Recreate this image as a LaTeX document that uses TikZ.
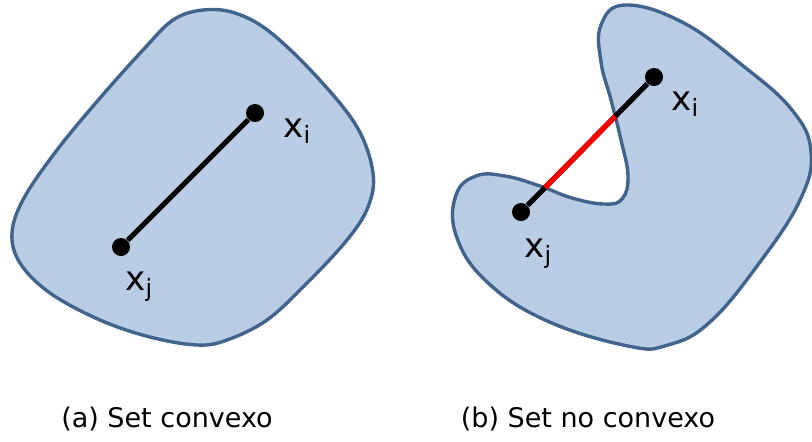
\documentclass[tikz,border=0pt]{standalone}
\usepackage{fontspec}
\setmainfont{DejaVu Sans}
\usetikzlibrary{calc, intersections}
\definecolor{setfill}{HTML}{B9CDE5}
\definecolor{setedge}{HTML}{41648C}
\definecolor{cutred}{HTML}{FF0000}
\tikzset{
  region/.style={fill=setfill, draw=setedge, line width=1.7pt},
  segment/.style={line width=2.6pt, color=black},
  outside/.style={line width=2.6pt, color=cutred},
  dot/.style={circle, fill=black, inner sep=0pt, minimum size=9pt},
  pointlabel/.style={anchor=base west, inner sep=0pt, font=\fontsize{17}{20}\selectfont},
  caption/.style={font=\fontsize{13.5}{16}\selectfont}
}
\begin{document}
\begin{tikzpicture}[x=0.5pt, y=-0.5pt]
\useasboundingbox (0,0) rectangle (812,441);
% convex set
\draw[region] plot[smooth cycle, tension=0.6] coordinates {
  (203,10) (235,13) (270,32) (317,77) (357,127) (373,173) (368,207)
  (347,240) (307,283) (267,320) (227,340) (197,345) (150,337) (100,320)
  (50,293) (20,263) (12,233) (24,198) (57,150) (100,98) (143,50) (173,20)};
\node[dot] (xia) at (255,113) {};
\node[dot] (xja) at (121,247) {};
\draw[segment] (xia) -- (xja);
\node[pointlabel] (lxia) at (283,137) {x\textsubscript{i}};
\node[pointlabel] (lxja) at (125,290) {x\textsubscript{j}};
% non convex set
\draw[region, name path=bshape] plot[smooth cycle, tension=0.7] coordinates {
  (625,5) (601,25) (601,62) (611,100) (621,140) (628,176) (622,199)
  (604,204) (572,198) (540,186) (505,176) (476,176) (456,195) (456,235)
  (485,280) (545,320) (628,346) (668,345) (710,322) (760,262) (800,200)
  (811,152) (792,110) (742,65) (682,22)};
\node[dot] (xib) at (654,77) {};
\node[dot] (xjb) at (521,212) {};
\draw[segment, name path=chord] (xib) -- (xjb);
\path[name intersections={of=bshape and chord, name=cut}];
\draw[outside] (cut-1) -- (cut-2);
\node[pointlabel] (lxib) at (671,110) {x\textsubscript{i}};
\node[pointlabel] (lxjb) at (524,257) {x\textsubscript{j}};
% captions
\node[caption] (capa) at (167,419) {(a) Set convexo};
\node[caption] (capb) at (588,419) {(b) Set no convexo};
\end{tikzpicture}
\end{document}
